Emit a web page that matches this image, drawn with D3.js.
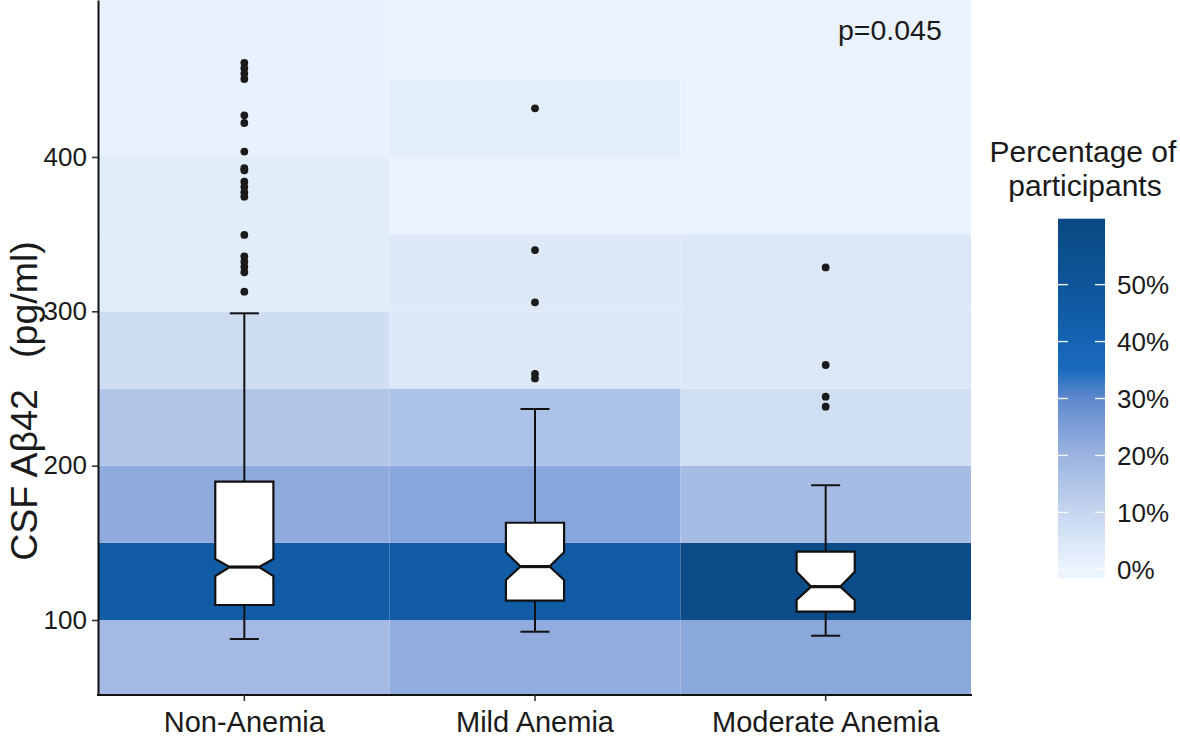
<!DOCTYPE html>
<html>
<head>
<meta charset="utf-8">
<script src="https://cdn.jsdelivr.net/npm/d3@7"></script>
<style>
  html, body { margin: 0; padding: 0; background: #ffffff; }
  svg { display: block; }
  text { font-family: "Liberation Sans", Arial, sans-serif; fill: #1a1a1a; }
</style>
</head>
<body>
<svg id="chart" width="1180" height="737"></svg>
<script>
// ---------------- data ----------------
const categories = ["Non-Anemia", "Mild Anemia", "Moderate Anemia"];
const binLows = [50, 100, 150, 200, 250, 300, 350, 400, 450];
const binWidth = 50;
// percentage of participants per bin (per group)
const pctNonAnemia = [17.9, 45, 22, 14.9, 7.6, 2.6, 2.6, 1.0, 1.0];
const pctMildAnemia = [21.7, 45, 23.2, 15.8, 3.9, 3.9, 0.5, 2.4, 0.5];
const pctModerateAnemia = [22.7, 58, 17.4, 7.4, 4.2, 4.2, 0.5, 0.5, 0.5];

// box statistics
const whiskerLow = [87.7, 92.4, 89.8];
const q1 = [109.7, 112.5, 105.4];
const median = [134.3, 134.6, 121.6];
const q3 = [189.6, 163.0, 144.3];
const whiskerHigh = [298.7, 236.7, 187.3];
const notchLow = [128.5, 125.9, 113.0];
const notchHigh = [139.5, 143.9, 131.3];

// outliers
const outNonAnemia = [461, 457.5, 454, 450.5, 427, 422, 403.5, 392.7, 391.4, 384, 380.6, 377.1, 374.3, 349.5, 335.5, 332.1, 328.7, 325.3, 312.7];
const outMildAnemia = [431.5, 339.7, 305.8, 259.5, 256.5];
const outModerateAnemia = [328.4, 265.2, 244.7, 238.2];

const yTicks = [100, 200, 300, 400];
const legendTicks = [0, 10, 20, 30, 40, 50];
const colorStops = [0, 10, 20, 30, 35, 40, 50, 60];
const colorValues = ["#ecf5fe", "#c6d6f0", "#9bb3e1", "#5f89cd", "#1a6abf", "#1563b3", "#0e5599", "#0a4a85"];
const pValueText = "p=0.045";

// ---------------- layout ----------------
const svg = d3.select("#chart");
const plot = { left: 98, right: 972, top: 0, bottom: 695 };

const x = d3.scaleBand().domain(categories).range([99, 971]).paddingInner(0).paddingOuter(0);
const y = d3.scaleLinear().domain([51.4, 501.7]).range([plot.bottom, plot.top]);
const color = d3.scaleLinear().domain(colorStops).range(colorValues).interpolate(d3.interpolateRgb).clamp(true);

const pctByGroup = [pctNonAnemia, pctMildAnemia, pctModerateAnemia];
const outByGroup = [outNonAnemia, outMildAnemia, outModerateAnemia];

svg.append("defs").append("clipPath").attr("id", "plotclip")
  .append("rect").attr("x", plot.left).attr("y", plot.top)
  .attr("width", plot.right - plot.left).attr("height", plot.bottom - plot.top);

const gTiles = svg.append("g").attr("clip-path", "url(#plotclip)");
categories.forEach((cat, ci) => {
  binLows.forEach((lo, bi) => {
    const hi = lo + binWidth;
    const yTop = bi === binLows.length - 1 ? y(y.domain()[1]) : y(hi);
    gTiles.append("rect")
      .attr("x", x(cat))
      .attr("y", yTop)
      .attr("width", x.bandwidth())
      .attr("height", y(lo) - yTop)
      .attr("fill", color(pctByGroup[ci][bi]));
  });
});

// ---------------- boxplots ----------------
const gBox = svg.append("g");
const boxHalf = x.bandwidth() * 0.1;
const capHalf = boxHalf * 0.5;
categories.forEach((cat, i) => {
  const cx = x(cat) + x.bandwidth() / 2;
  const xl = cx - boxHalf, xr = cx + boxHalf;
  const ni = boxHalf * 0.5;
  // whiskers
  gBox.append("line").attr("x1", cx).attr("x2", cx).attr("y1", y(q3[i])).attr("y2", y(whiskerHigh[i]))
    .attr("stroke", "#111").attr("stroke-width", 2);
  gBox.append("line").attr("x1", cx).attr("x2", cx).attr("y1", y(q1[i])).attr("y2", y(whiskerLow[i]))
    .attr("stroke", "#111").attr("stroke-width", 2);
  gBox.append("line").attr("x1", cx - capHalf).attr("x2", cx + capHalf).attr("y1", y(whiskerHigh[i])).attr("y2", y(whiskerHigh[i]))
    .attr("stroke", "#111").attr("stroke-width", 2);
  gBox.append("line").attr("x1", cx - capHalf).attr("x2", cx + capHalf).attr("y1", y(whiskerLow[i])).attr("y2", y(whiskerLow[i]))
    .attr("stroke", "#111").attr("stroke-width", 2);
  // notched box
  const pts = [
    [xl, y(q3[i])], [xr, y(q3[i])], [xr, y(notchHigh[i])], [xr - ni, y(median[i])],
    [xr, y(notchLow[i])], [xr, y(q1[i])], [xl, y(q1[i])], [xl, y(notchLow[i])],
    [xl + ni, y(median[i])], [xl, y(notchHigh[i])]
  ];
  gBox.append("polygon").attr("points", pts.map(p => p.join(",")).join(" "))
    .attr("fill", "#ffffff").attr("stroke", "#111").attr("stroke-width", 2.2).attr("stroke-linejoin", "miter");
  gBox.append("line").attr("x1", xl + ni).attr("x2", xr - ni).attr("y1", y(median[i])).attr("y2", y(median[i]))
    .attr("stroke", "#111").attr("stroke-width", 3.2);
  // outliers
  gBox.selectAll(null).data(outByGroup[i]).enter().append("circle")
    .attr("cx", cx).attr("cy", d => y(d)).attr("r", 3.9).attr("fill", "#1a1a1a");
});

// ---------------- axes ----------------
const yAxis = d3.axisLeft(y).tickValues(yTicks).tickSize(6).tickSizeOuter(0).tickPadding(5);
const gy = svg.append("g").attr("transform", `translate(${plot.left},0)`).call(yAxis);
gy.select(".domain").attr("stroke", "#111").attr("stroke-width", 2);
gy.selectAll(".tick line").attr("stroke", "#333").attr("stroke-width", 1.6);
gy.selectAll(".tick text").attr("font-size", 26).attr("fill", "#1a1a1a")
  .attr("font-family", "Liberation Sans, Arial, sans-serif");

const xAxis = d3.axisBottom(x).tickSize(6).tickSizeOuter(0).tickPadding(10);
const gx = svg.append("g").attr("transform", `translate(0,${plot.bottom})`).call(xAxis);
gx.select(".domain").attr("stroke", "#111").attr("stroke-width", 2)
  .attr("d", `M${plot.left - 1},0H${plot.right}`);
gx.selectAll(".tick line").attr("stroke", "#333").attr("stroke-width", 1.6);
gx.selectAll(".tick text").attr("font-size", 29).attr("fill", "#1a1a1a")
  .attr("font-family", "Liberation Sans, Arial, sans-serif");

// y-axis title
svg.append("text")
  .attr("transform", "translate(37,401) rotate(-90)")
  .attr("text-anchor", "middle")
  .attr("font-size", 37.5)
  .style("white-space", "pre")
  .attr("xml:space", "preserve")
  .text("CSF A\u03B242   (pg/ml)");

// p value
svg.append("text").attr("x", 838).attr("y", 40).attr("font-size", 28.5).text(pValueText);

// ---------------- legend ----------------
const bar = { x: 1058, w: 47, top: 218.7, bottom: 578.3 };
const lg = d3.scaleLinear().domain([0, 60])
  .range([bar.bottom - (bar.bottom - bar.top) * 0.025, bar.top + (bar.bottom - bar.top) * 0.025]);
const grad = svg.select("defs").append("linearGradient").attr("id", "lgrad")
  .attr("x1", 0).attr("y1", 1).attr("x2", 0).attr("y2", 0);
d3.range(0, 61, 2.5).forEach(v => {
  grad.append("stop")
    .attr("offset", (bar.bottom - lg(v)) / (bar.bottom - bar.top))
    .attr("stop-color", color(v));
});
svg.append("rect").attr("x", bar.x).attr("y", bar.top).attr("width", bar.w)
  .attr("height", bar.bottom - bar.top).attr("fill", "url(#lgrad)");
legendTicks.forEach(t => {
  svg.append("line").attr("x1", bar.x).attr("x2", bar.x + 10).attr("y1", lg(t)).attr("y2", lg(t))
    .attr("stroke", "#ffffff").attr("stroke-width", 1.4).attr("opacity", 0.9);
  svg.append("line").attr("x1", bar.x + bar.w - 10).attr("x2", bar.x + bar.w).attr("y1", lg(t)).attr("y2", lg(t))
    .attr("stroke", "#ffffff").attr("stroke-width", 1.4).attr("opacity", 0.9);
  svg.append("text").attr("x", 1117).attr("y", lg(t)).attr("dy", "0.36em")
    .attr("font-size", 26).text(t + "%");
});
const lt = svg.append("text").attr("text-anchor", "middle").attr("font-size", 30);
lt.append("tspan").attr("x", 1083).attr("y", 162).text("Percentage of");
lt.append("tspan").attr("x", 1085).attr("y", 196).text("participants");
</script>
</body>
</html>
